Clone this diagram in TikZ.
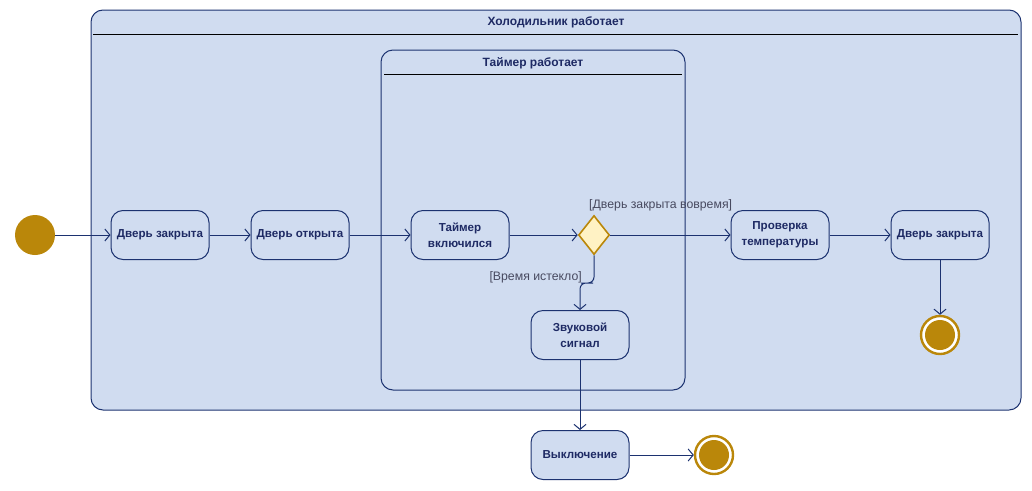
\documentclass[tikz,border=0pt]{standalone}
\usepackage{fontspec}
\setmainfont{Liberation Sans}
\usetikzlibrary{shapes.geometric,arrows.meta}

\definecolor{umlfill}{RGB}{208,220,240}
\definecolor{umlline}{RGB}{28,50,112}
\definecolor{umltext}{RGB}{30,42,100}
\definecolor{umlgold}{RGB}{186,135,10}
\definecolor{umldia}{RGB}{255,242,196}
\definecolor{umlguard}{RGB}{72,74,96}

\tikzset{
    region/.style={draw=umlline,fill=umlfill,line width=1pt,rounded corners=12pt},
    regtitle/.style={font=\bfseries\fontsize{12}{14}\selectfont,text=umltext},
    act/.style={draw=umlline,fill=umlfill,line width=1pt,rounded corners=12pt,
        minimum width=98pt,minimum height=49pt,align=center,
        font=\bfseries\fontsize{11.6}{16}\selectfont,text=umltext},
    startnode/.style={circle,fill=umlgold,minimum size=40pt,inner sep=0pt},
    endnode/.style={circle,draw=umlgold,line width=2.4pt,fill=white,minimum size=38pt,inner sep=0pt,
        path picture={\fill[umlgold] (path picture bounding box.center) circle (15pt);}},
    choice/.style={diamond,draw=umlgold,fill=umldia,line width=1.6pt,inner sep=0pt,
        minimum width=31pt,minimum height=39pt},
    guard/.style={font=\fontsize{12.3}{14}\selectfont,text=umlguard,inner sep=0pt},
    flow/.style={draw=umlline,line width=1pt,-{Straight Barb[length=5pt,width=12pt,line width=1pt]}}
}

\begin{document}
\begin{tikzpicture}[x=1pt,y=1pt]
        \useasboundingbox (0,0) rectangle (1032,-490);
        \draw[region] (91,-10) rectangle (1021,-410);
        \node[regtitle] (fridge) at (556,-22) {Холодильник работает};
        \draw[line width=1pt,black] (93,-34) -- (1018,-34);
        \draw[region] (381,-50) rectangle (685,-390);
        \node[regtitle] (timer) at (533,-63) {Таймер работает};
        \draw[line width=1pt,black] (384,-74) -- (682,-74);

        \node[startnode] (init) at (35,-235) {};
        \node[act] (closed1) at (160,-235) {Дверь закрыта};
        \node[act] (opened) at (300,-235) {Дверь открыта};
        \node[act] (timeron) at (460,-235) {Таймер\\включился};
        \node[choice] (dec) at (594,-235) {};
        \node[act] (check) at (780,-235) {Проверка\\температуры};
        \node[act] (closed2) at (940,-235) {Дверь закрыта};
        \node[endnode] (end1) at (940,-335) {};
        \node[act] (beep) at (580,-335) {Звуковой\\сигнал};
        \node[act] (off) at (580,-455) {Выключение};
        \node[endnode] (end2) at (714,-455) {};

        \node[guard,anchor=south west] (intime) at (589,-211) {[Дверь закрыта вовремя]};
        \node[guard,anchor=east] (timeout) at (582,-277) {[Время истекло]};
        \coordinate (bend) at (587,-283);

        \draw[flow] (init) -- (closed1);
        \draw[flow] (closed1) -- (opened);
        \draw[flow] (opened) -- (timeron);
        \draw[flow] (timeron) -- (dec);
        \draw[flow] (dec) -- (check);
        \draw[flow] (check) -- (closed2);
        \draw[flow] (closed2) -- (end1);
        \draw[flow,rounded corners=6pt] (dec.south) |- (bend) -| (beep.north);
        \draw[flow] (beep) -- (off);
        \draw[flow] (off) -- (end2);
\end{tikzpicture}
\end{document}
